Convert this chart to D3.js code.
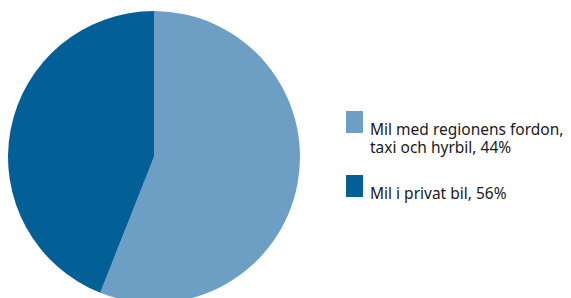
<!doctype html>
<head>
	<meta charset="utf-8">
	<script src="https://d3js.org/d3.v7.min.js"></script>
	<style>
		body { margin: 0; background: #fff; }
		text { font-family: "Noto Sans", sans-serif; }
	</style>
</head>
<body>
	<svg id="chart" width="571" height="298"></svg>
	<script>
		// slices as drawn, clockwise from 12 o'clock
		let sliceValues = [56, 44]
		let sliceColors = ["#6d9fc5", "#026097"]

		// legend entries
		let legendLabels = [["Mil med regionens fordon,", "taxi och hyrbil, 44%"], ["Mil i privat bil, 56%"]]
		let legendColors = ["#6d9fc5", "#026097"]

		const svg = d3.select("#chart")
		const cx = 154, cy = 157, r = 146

		const pie = d3.pie().sort(null)
		const arc = d3.arc().innerRadius(0).outerRadius(r)

		svg.append("g")
			.attr("transform", `translate(${cx},${cy})`)
			.selectAll("path")
			.data(pie(sliceValues))
			.join("path")
			.attr("d", arc)
			.attr("fill", (d, i) => sliceColors[i])

		const legendTop = [111, 175]
		const legend = svg.append("g")
		legendLabels.forEach((lines, i) => {
			legend.append("rect")
				.attr("x", 346).attr("y", legendTop[i])
				.attr("width", 17).attr("height", 22)
				.attr("fill", legendColors[i])
			// one text per line
			lines.forEach((line, j) => {
				legend.append("text")
					.attr("x", 370).attr("y", legendTop[i] + 24 + j * 18)
					.attr("font-size", 15.5).attr("fill", "#1a1a1a")
					.text(line)
			})
		})
	</script>
</body>
